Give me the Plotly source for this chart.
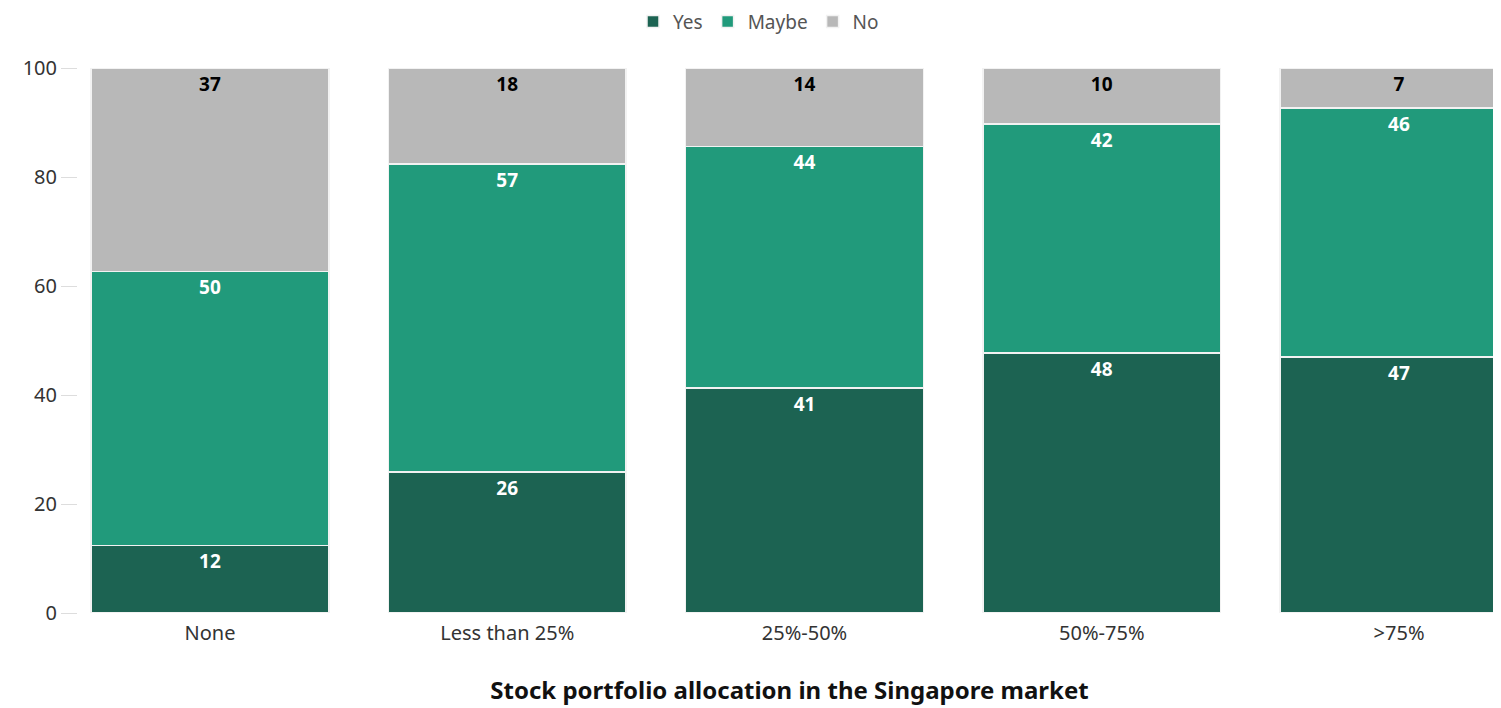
import plotly.graph_objects as go

categories = ["None", "Less than 25%", "25%-50%", "50%-75%", ">75%"]
yes = [12.4, 25.9, 41.3, 47.7, 47.0]
maybe = [50.3, 56.5, 44.3, 42.0, 45.7]
no = [37.3, 17.6, 14.4, 10.3, 7.3]

series = [
    ("Yes", yes, "#1c6352", "white"),
    ("Maybe", maybe, "#219a7b", "white"),
    ("No", no, "#b8b8b8", "black"),
]

FONT = "Noto Sans"

fig = go.Figure()
for name, vals, color, tcolor in series:
    fig.add_trace(go.Bar(
        name=name, x=categories, y=vals,
        marker=dict(color=color, line=dict(color="#f2f2f2", width=1.5)),
        texttemplate="<b>%{y:.0f}</b>",
        textposition="inside", insidetextanchor="end",
        textfont=dict(color=tcolor, size=19, family=FONT),
        textangle=0,
        hoverinfo="skip",
    ))

fig.update_layout(
    barmode="stack", bargap=0.2,
    width=1501, height=708,
    margin=dict(l=70, r=8, t=60, b=103, autoexpand=False),
    paper_bgcolor="white", plot_bgcolor="white",
    font=dict(family=FONT, size=19, color="#333"),
    legend=dict(orientation="h", x=0.5, xanchor="center", xref="container",
                y=1.12, yanchor="top", yref="paper", traceorder="normal",
                font=dict(size=19, color="#555"), itemwidth=30),
    xaxis=dict(range=[-0.444, 4.343], showline=False,
               ticks="outside", ticklen=2, tickcolor="rgba(0,0,0,0)",
               tickfont=dict(size=20, color="#333"),
               title=dict(text="<b>Stock portfolio allocation in the Singapore market</b>",
                          font=dict(size=24, color="#111"), standoff=37)),
    yaxis=dict(range=[0, 100], dtick=20, showgrid=False, zeroline=False,
               ticks="outside", ticklen=16, tickcolor="#dddddd", tickwidth=1,
               tickfont=dict(size=20, color="#333")),
)

fig.write_html("out.html")
